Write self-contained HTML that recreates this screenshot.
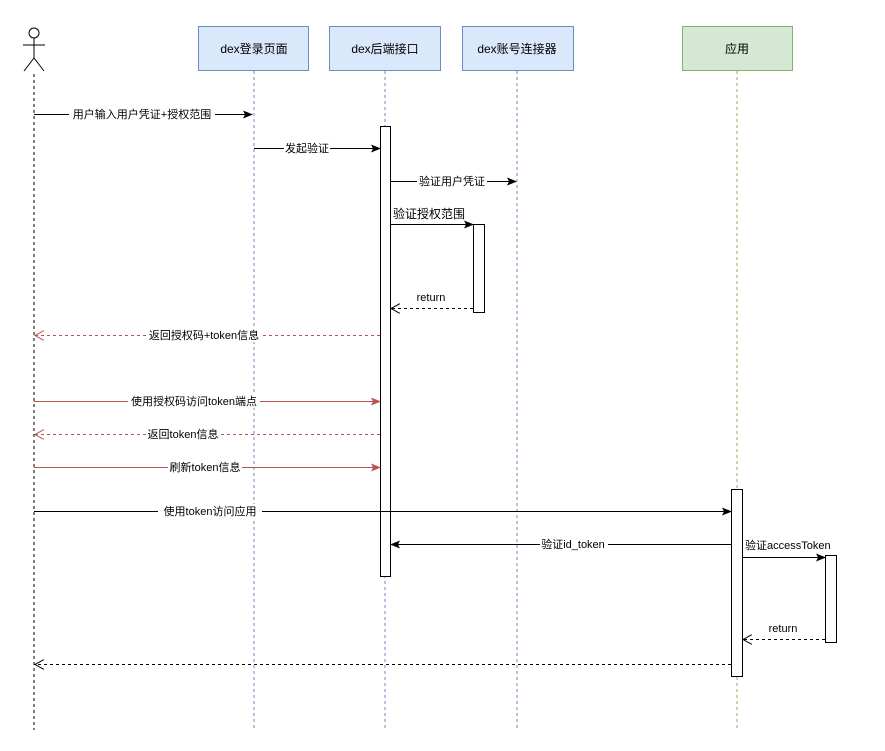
<!DOCTYPE html>
<html><head><meta charset="utf-8"><style>body{margin:0;background:#fff}svg{display:block}text{font-family:"Liberation Sans","Noto Sans CJK SC",sans-serif;font-size:11px;fill:#000}</style></head><body>
<svg width="885" height="751" viewBox="0 0 885 751" xmlns="http://www.w3.org/2000/svg">
<defs>
<marker id="a" markerWidth="10" markerHeight="8" refX="9" refY="4" orient="auto" markerUnits="userSpaceOnUse"><path d="M0,0 L10,4 L0,8 L2,4Z" fill="#000"/></marker>
<marker id="ar" markerWidth="10" markerHeight="8" refX="9" refY="4" orient="auto" markerUnits="userSpaceOnUse"><path d="M0,0 L10,4 L0,8 L2,4Z" fill="#b85450"/></marker>
<marker id="o" markerWidth="10" markerHeight="10" refX="9" refY="5" orient="auto" markerUnits="userSpaceOnUse"><path d="M0,0 L9,5 L0,10" fill="none" stroke="#000"/></marker>
<marker id="or" markerWidth="10" markerHeight="10" refX="9" refY="5" orient="auto" markerUnits="userSpaceOnUse"><path d="M0,0 L9,5 L0,10" fill="none" stroke="#b85450"/></marker>
</defs>
<g stroke="#000" fill="none" stroke-width="1">
<circle cx="34" cy="33" r="5"/><line x1="34" y1="38" x2="34" y2="58"/><line x1="23" y1="45" x2="45" y2="45"/><line x1="34" y1="58" x2="24" y2="71"/><line x1="34" y1="58" x2="44" y2="71"/>
<line x1="34" y1="74" x2="34" y2="730" stroke-dasharray="3,3"/>
</g>
<g stroke="#6c8ebf" fill="#dae8fc">
<rect x="198.5" y="26.5" width="110" height="44"/><rect x="329.5" y="26.5" width="111" height="44"/><rect x="462.5" y="26.5" width="111" height="44"/>
</g>
<rect x="682.5" y="26.5" width="110" height="44" fill="#d5e8d4" stroke="#82b366"/>
<g text-anchor="middle"><text x="254" y="53" style="font-size:12px">dex登录页面</text><text x="385" y="53" style="font-size:12px">dex后端接口</text><text x="517" y="53" style="font-size:12px">dex账号连接器</text><text x="737" y="53" style="font-size:12px">应用</text></g>
<g stroke-dasharray="3,3" fill="none">
<line x1="254" y1="71" x2="254" y2="730" stroke="#6c8ebf"/><line x1="385" y1="71" x2="385" y2="730" stroke="#6c8ebf"/><line x1="517" y1="71" x2="517" y2="730" stroke="#6c8ebf"/><line x1="737" y1="71" x2="737" y2="730" stroke="#82b366"/>
</g>
<g fill="#fff" stroke="#000">
<rect x="380.5" y="126.5" width="10" height="450"/><rect x="473.5" y="224.5" width="11" height="88"/><rect x="731.5" y="489.5" width="11" height="187"/><rect x="825.5" y="555.5" width="11" height="87"/>
</g>
<g stroke="#000" fill="none">
<line x1="34" y1="114.5" x2="252" y2="114.5" marker-end="url(#a)"/>
<line x1="254" y1="148.5" x2="380" y2="148.5" marker-end="url(#a)"/>
<line x1="390" y1="181.5" x2="516" y2="181.5" marker-end="url(#a)"/>
<line x1="390" y1="224.5" x2="473" y2="224.5" marker-end="url(#a)"/>
<line x1="473" y1="308.5" x2="391" y2="308.5" stroke-dasharray="3,3" marker-end="url(#o)"/>
<line x1="34" y1="511.5" x2="731" y2="511.5" marker-end="url(#a)"/>
<line x1="731" y1="544.5" x2="391" y2="544.5" marker-end="url(#a)"/>
<line x1="742" y1="557.5" x2="825" y2="557.5" marker-end="url(#a)"/>
<line x1="825" y1="639.5" x2="743" y2="639.5" stroke-dasharray="3,3" marker-end="url(#o)"/>
<line x1="731" y1="664.5" x2="35" y2="664.5" stroke-dasharray="3,3" marker-end="url(#o)"/>
</g>
<g stroke="#b85450" fill="none">
<line x1="380" y1="335.5" x2="35" y2="335.5" stroke-dasharray="3,3" marker-end="url(#or)"/>
<line x1="34" y1="401.5" x2="380" y2="401.5" marker-end="url(#ar)"/>
<line x1="380" y1="434.5" x2="35" y2="434.5" stroke-dasharray="3,3" marker-end="url(#or)"/>
<line x1="34" y1="467.5" x2="380" y2="467.5" marker-end="url(#ar)"/>
</g>
<g text-anchor="middle">
<rect x="69" y="107" width="146" height="14" fill="#fff"/><text x="142" y="118">用户输入用户凭证+授权范围</text>
<rect x="284" y="141" width="46" height="14" fill="#fff"/><text x="307" y="152">发起验证</text>
<rect x="417" y="174" width="70" height="14" fill="#fff"/><text x="452" y="185">验证用户凭证</text>
<text x="431" y="301">return</text>
<rect x="146" y="328" width="116" height="14" fill="#fff"/><text x="204" y="339">返回授权码+token信息</text>
<rect x="128" y="394" width="132" height="14" fill="#fff"/><text x="194" y="405">使用授权码访问token端点</text>
<rect x="146" y="427" width="74" height="14" fill="#fff"/><text x="183" y="438">返回token信息</text>
<rect x="168" y="460" width="74" height="14" fill="#fff"/><text x="205" y="471">刷新token信息</text>
<rect x="158" y="504" width="104" height="14" fill="#fff"/><text x="210" y="515">使用token访问应用</text>
<rect x="540" y="537" width="68" height="14" fill="#fff"/><text x="573" y="548">验证id_token</text>
<text x="783" y="632">return</text>
</g>
<text x="393" y="218" style="font-size:12px">验证授权范围</text>
<text x="745" y="549">验证accessToken</text>
</svg>
</body></html>
